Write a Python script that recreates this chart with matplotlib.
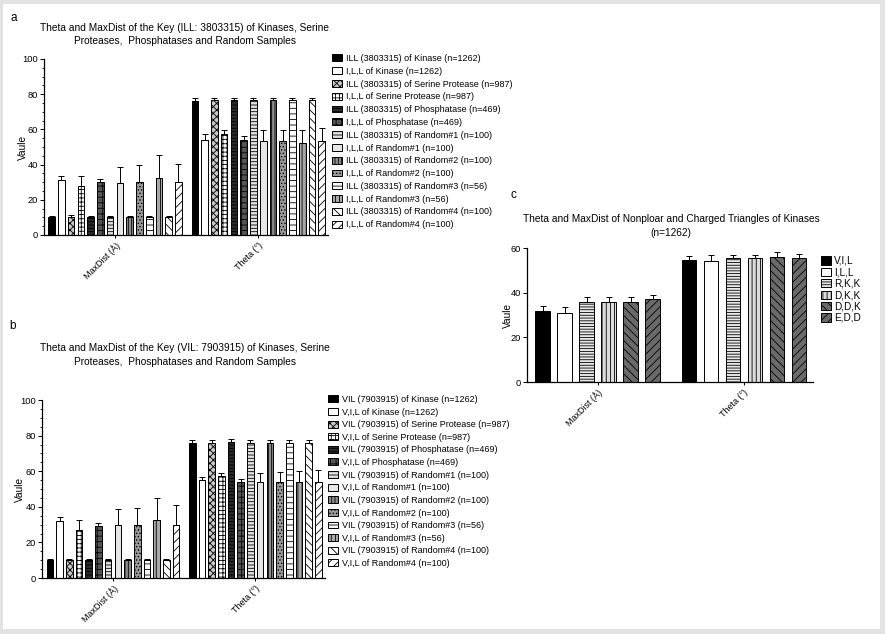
import matplotlib
matplotlib.use("Agg")
import matplotlib.pyplot as plt
import numpy as np
from matplotlib.patches import Rectangle
from matplotlib.ticker import MultipleLocator

plt.rcParams['font.family'] = ['Liberation Sans', 'DejaVu Sans']
plt.rcParams['hatch.linewidth'] = 0.6

groups = ["MaxDist (Å)", "Theta (°)"]

# Panel a
labels_a = ["ILL (3803315) of Kinase (n=1262)", "I,L,L of Kinase (n=1262)",
            "ILL (3803315) of Serine Protease (n=987)", "I,L,L of Serine Protease (n=987)",
            "ILL (3803315) of Phosphatase (n=469)", "I,L,L of Phosphatase (n=469)",
            "ILL (3803315) of Random#1 (n=100)", "I,L,L of Random#1 (n=100)",
            "ILL (3803315) of Random#2 (n=100)", "I,L,L of Random#2 (n=100)",
            "ILL (3803315) of Random#3 (n=56)", "I,L,L of Random#3 (n=56)",
            "ILL (3803315) of Random#4 (n=100)", "I,L,L of Random#4 (n=100)"]
maxdist_a = [10, 31, 10.5, 27.8, 10, 30, 10, 29.5, 10, 30, 10, 32.4, 10, 30]
maxdist_a_err = [0.7, 2.4, 0.6, 6, 0.6, 1.7, 0.6, 9, 0.6, 10, 0.6, 13, 0.6, 10.5]
theta_a = [76, 54.2, 76.5, 57.5, 76.5, 54.2, 76.5, 53.6, 76.5, 53.6, 76.5, 52.4, 76.5, 53.6]
theta_a_err = [2, 3, 1.5, 2, 1.5, 2, 1.5, 6, 1.5, 6, 1.5, 7, 1.5, 7]

# Panel b
labels_b = ["VIL (7903915) of Kinase (n=1262)", "V,I,L of Kinase (n=1262)",
            "VIL (7903915) of Serine Protease (n=987)", "V,I,L of Serine Protease (n=987)",
            "VIL (7903915) of Phosphatase (n=469)", "V,I,L of Phosphatase (n=469)",
            "VIL (7903915) of Random#1 (n=100)", "V,I,L of Random#1 (n=100)",
            "VIL (7903915) of Random#2 (n=100)", "V,I,L of Random#2 (n=100)",
            "VIL (7903915) of Random#3 (n=56)", "V,I,L of Random#3 (n=56)",
            "VIL (7903915) of Random#4 (n=100)", "V,I,L of Random#4 (n=100)"]
maxdist_b = [10, 32, 10, 27, 10, 29, 10, 29.5, 10, 30, 10, 32.6, 10, 30]
maxdist_b_err = [0.6, 2, 0.6, 5.5, 0.6, 1.8, 0.6, 9, 0.6, 9.5, 0.6, 12.5, 0.6, 11]
theta_b = [76, 55, 76, 57.5, 76.2, 54.2, 76, 54, 76, 54.2, 76, 54, 76, 54.2]
theta_b_err = [1.5, 1.5, 1.5, 1.3, 2, 1.6, 1.5, 5, 1.5, 5.5, 1.5, 6, 1.5, 6.5]

# Panel c
labels_c = ["V,I,L", "I,L,L", "R,K,K", "D,K,K", "D,D,K", "E,D,D"]
maxdist_c = [32, 31, 36, 36, 36, 37]
maxdist_c_err = [2, 2.5, 2, 2.2, 2, 2]
theta_c = [54.7, 54.3, 55.3, 55.3, 56, 55.6]
theta_c_err = [1.8, 2.7, 1.7, 1.5, 2, 1.5]

styles14 = [("black", None), ("white", None), ("#c8c8c8", "xxxxx"), ("white", "++++"),
            ("#2a2a2a", "-----"), ("#555555", "+++"), ("#e2e2e2", "-----"), ("#e6e6e6", None),
            ("#8c8c8c", "|||||"), ("#9a9a9a", "....."), ("white", "---"), ("#a8a8a8", "||||"),
            ("white", "\\\\\\\\"), ("white", "////")]
styles6 = [("black", None), ("white", None), ("#e8e8e8", "------"), ("#dcdcdc", "||||"),
           ("#6a6a6a", "\\\\\\\\"), ("#6a6a6a", "////")]

W, H = 885, 634
fig = plt.figure(figsize=(8.85, 6.34), dpi=100)
fig.patch.set_facecolor("#e3e3e3")
fig.add_artist(Rectangle((3 / W, 5 / H), (880 - 3) / W, (630 - 5) / H, transform=fig.transFigure,
                         facecolor="white", edgecolor="none", zorder=0))


def axpos(l, r, t, b):
    return [l / W, 1 - b / H, (r - l) / W, (b - t) / H]


def draw_panel(ax, vals, errs, labels, styles, G, width, lpad, rpad, ylim, major, minor, ylx):
    n = len(labels)
    handles = []
    for i in range(n):
        xs = [g * G + i for g in range(len(vals))]
        ys = [vals[g][i] for g in range(len(vals))]
        es = [errs[g][i] for g in range(len(vals))]
        fc, hatch = styles[i]
        b = ax.bar(xs, ys, width=width, color=fc, edgecolor="black", linewidth=0.7,
                   hatch=hatch, label=labels[i], zorder=2)
        ax.errorbar(xs, ys, yerr=[np.zeros(len(es)), es], fmt="none", ecolor="black",
                    elinewidth=0.7, capsize=2.0, capthick=0.7, zorder=3)
        handles.append(b)
    ax.set_xlim(-width / 2 - lpad, G + n - 1 + width / 2 + rpad)
    ax.set_ylim(*ylim)
    ax.yaxis.set_major_locator(MultipleLocator(major))
    if minor:
        ax.yaxis.set_minor_locator(MultipleLocator(minor))
    ax.set_xticks([g * G + (n - 1) / 2 for g in range(len(vals))])
    ax.set_xticklabels(groups, rotation=45, ha="right", rotation_mode="anchor", fontsize=6.5)
    ax.tick_params(axis="y", labelsize=6.7, length=3, width=0.7, pad=1.5)
    ax.tick_params(axis="y", which="minor", length=1.5, width=0.6)
    ax.tick_params(axis="x", length=2.5, width=0.7, pad=2)
    for s in ["top", "right"]:
        ax.spines[s].set_visible(False)
    for s in ["left", "bottom"]:
        ax.spines[s].set_linewidth(0.9)
    ax.set_ylabel("Vaule", fontsize=7.3)
    ax.yaxis.set_label_coords(ylx, 0.5)
    ax.set_facecolor("none")
    return handles


# Panel a
axa = fig.add_axes(axpos(44, 328, 59, 235))
ha = draw_panel(axa, [maxdist_a, theta_a], [maxdist_a_err, theta_a_err], labels_a, styles14,
                14.68, 0.68, 0.44, 0.3, (0, 100), 20, 5, -0.055)
axa.legend(handles=ha, loc="upper left", bbox_to_anchor=(332 / W, 1 - 54 / H),
           bbox_transform=fig.transFigure, frameon=False, fontsize=6.5, handlelength=1.1,
           handleheight=0.8, handletextpad=0.4, labelspacing=0.42, borderpad=0, borderaxespad=0)
fig.text(185 / W, 1 - 34.5 / H,
         "Theta and MaxDist of the Key (ILL: 3803315) of Kinases, Serine\nProteases,  Phosphatases and Random Samples",
         ha="center", va="center", fontsize=7.3, linespacing=1.4)
fig.text(14 / W, 1 - 18 / H, "a", ha="center", va="center", fontsize=8.5)

# Panel b
axb = fig.add_axes(axpos(42, 325, 400, 578))
hb = draw_panel(axb, [maxdist_b, theta_b], [maxdist_b_err, theta_b_err], labels_b, styles14,
                14.68, 0.68, 0.48, 0.35, (0, 100), 20, 5, -0.06)
axb.legend(handles=hb, loc="upper left", bbox_to_anchor=(328 / W, 1 - 395 / H),
           bbox_transform=fig.transFigure, frameon=False, fontsize=6.5, handlelength=1.1,
           handleheight=0.8, handletextpad=0.4, labelspacing=0.40, borderpad=0, borderaxespad=0)
fig.text(185 / W, 1 - 355 / H,
         "Theta and MaxDist of the Key (VIL: 7903915) of Kinases, Serine\nProteases,  Phosphatases and Random Samples",
         ha="center", va="center", fontsize=7.3, linespacing=1.4)
fig.text(13 / W, 1 - 326 / H, "b", ha="center", va="center", fontsize=8.5)

# Panel c
axc = fig.add_axes(axpos(527, 813, 248, 382))
hc = draw_panel(axc, [maxdist_c, theta_c], [maxdist_c_err, theta_c_err], labels_c, styles6,
                6.64, 0.65, 0.38, 0.32, (0, 60), 20, None, -0.05)
axc.legend(handles=hc, loc="upper left", bbox_to_anchor=(821 / W, 1 - 256 / H),
           bbox_transform=fig.transFigure, frameon=False, fontsize=7.2, handlelength=1.0,
           handleheight=0.9, handletextpad=0.3, labelspacing=0.14, borderpad=0, borderaxespad=0)
fig.text(671 / W, 1 - 226 / H,
         "Theta and MaxDist of Nonploar and Charged Triangles of Kinases\n(n=1262)",
         ha="center", va="center", fontsize=7.3, linespacing=1.4)
fig.text(513 / W, 1 - 195 / H, "c", ha="center", va="center", fontsize=8.5)

fig.savefig("out.png", dpi=100, facecolor=fig.get_facecolor())
